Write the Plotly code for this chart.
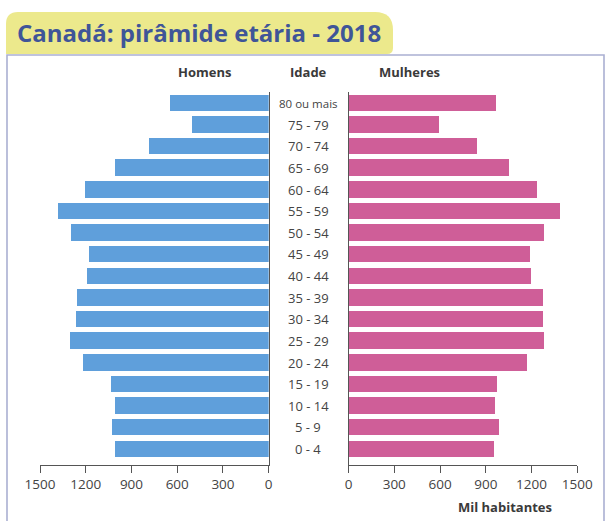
import plotly.graph_objects as go

W, H = 612, 521

ages = ["0 - 4", "5 - 9", "10 - 14", "15 - 19", "20 - 24", "25 - 29", "30 - 34",
        "35 - 39", "40 - 44", "45 - 49", "50 - 54", "55 - 59", "60 - 64",
        "65 - 69", "70 - 74", "75 - 79", "80 ou mais"]
homens = [1005, 1030, 1005, 1035, 1215, 1305, 1265, 1255, 1190, 1180,
          1295, 1385, 1205, 1005, 785, 505, 645]
mulheres = [950, 985, 960, 970, 1170, 1280, 1275, 1275, 1195, 1185,
            1280, 1385, 1230, 1050, 840, 590, 965]
ticks = [0, 300, 600, 900, 1200, 1500]

title = "Canadá: pirâmide etária - 2018"
blue = "#5f9fdb"
pink = "#cf5e98"
txt = "#3a3a3a"
font = "Open Sans"

def px(x):
    return x / W

def py(y):
    return 1 - y / H

ypos = list(range(len(ages)))

fig = go.Figure()
fig.add_trace(go.Bar(y=ypos, x=homens, orientation="h", marker_color=blue,
                     marker_line_width=0, width=0.76, xaxis="x", yaxis="y",
                     showlegend=False, hoverinfo="x"))
fig.add_trace(go.Bar(y=ypos, x=mulheres, orientation="h", marker_color=pink,
                     marker_line_width=0, width=0.76, xaxis="x2", yaxis="y2",
                     showlegend=False, hoverinfo="x"))

ydom = [py(465), py(92.2)]
yrange = [-0.74, 16.5]
axis_common = dict(tickvals=ticks, ticktext=[str(t) for t in ticks],
                   ticks="outside", ticklen=7, tickwidth=1.2, tickcolor="#555",
                   showline=True, linecolor="#555", linewidth=1.2,
                   showgrid=False, zeroline=False, automargin=False,
                   tickfont=dict(family=font, size=13.5, color="#444"),
                   fixedrange=True)

fig.update_layout(
    width=W, height=H, autosize=False,
    margin=dict(l=0, r=0, t=0, b=0, pad=0, autoexpand=False),
    paper_bgcolor="white", plot_bgcolor="white",
    bargap=0,
    xaxis=dict(domain=[px(40), px(268.7)], range=[1500, 0], anchor="y", **axis_common),
    xaxis2=dict(domain=[px(348.5), px(577.3)], range=[0, 1500], anchor="y2", **axis_common),
    yaxis=dict(domain=ydom, range=yrange, anchor="x", side="right", automargin=False,
               showline=True, linecolor="#555", linewidth=1.2,
               showticklabels=False, ticks="", showgrid=False, zeroline=False),
    yaxis2=dict(domain=ydom, range=yrange, anchor="x2", side="left", automargin=False,
                showline=True, linecolor="#555", linewidth=1.2,
                showticklabels=False, ticks="", showgrid=False, zeroline=False),
)

# frame and title box
r1, r2 = 12, 18
x0, x1, y0, y1 = 6, 393, 12, 54
path = (f"M {px(x0)},{py(y1)} "
        f"L {px(x0)},{py(y0 + r1)} Q {px(x0)},{py(y0)} {px(x0 + r1)},{py(y0)} "
        f"L {px(x1 - r2)},{py(y0)} Q {px(x1)},{py(y0)} {px(x1)},{py(y0 + r2)} "
        f"L {px(x1)},{py(y1 - 6)} Q {px(x1)},{py(y1)} {px(x1 - 6)},{py(y1)} Z")
fig.add_shape(type="path", xref="paper", yref="paper", path=path,
              fillcolor="#ece98c", line=dict(width=0))
fig.add_shape(type="rect", xref="paper", yref="paper",
              x0=px(7), x1=px(604), y0=py(530), y1=py(55),
              line=dict(color="#aab0d2", width=1.6), fillcolor="rgba(0,0,0,0)")

annotations = [
    dict(text=f"<b>{title}</b>", x=px(15), y=py(33), xanchor="left", yanchor="middle",
         font=dict(family="Open Sans", size=24, color="#3f5598")),
    dict(text="<b>Homens</b>", x=px(205), y=py(72), xanchor="center", yanchor="middle",
         font=dict(family=font, size=13, color=txt)),
    dict(text="<b>Idade</b>", x=px(308), y=py(72), xanchor="center", yanchor="middle",
         font=dict(family=font, size=13, color=txt)),
    dict(text="<b>Mulheres</b>", x=px(410), y=py(72), xanchor="center", yanchor="middle",
         font=dict(family=font, size=13, color=txt)),
    dict(text="<b>Mil habitantes</b>", x=px(505), y=py(507), xanchor="center", yanchor="middle",
         font=dict(family=font, size=13, color=txt)),
]
for i, a in enumerate(ages):
    annotations.append(dict(text=a, x=px(308), y=i, xref="paper", yref="y",
                            xanchor="center", yanchor="middle", showarrow=False,
                            font=dict(family=font, size=11.5 if i == 16 else 13, color="#444")))
for a in annotations:
    a.setdefault("xref", "paper")
    a.setdefault("yref", "paper")
    a["showarrow"] = False
fig.update_layout(annotations=annotations)

fig.write_html("out.html",
               config={"displayModeBar": False},
               post_script="document.body.style.margin='0';"
                           "document.body.style.overflow='hidden';")
